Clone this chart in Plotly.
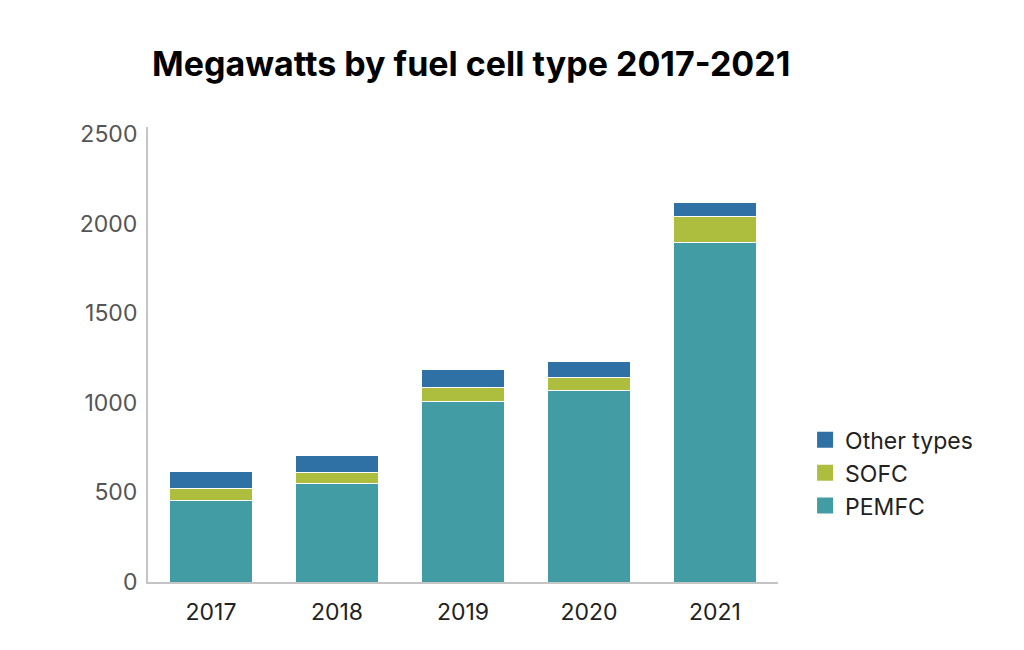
import plotly.graph_objects as go

years = ["2017", "2018", "2019", "2020", "2021"]
pemfc = [456, 551, 1009, 1067, 1894]
sofc = [67, 60, 78, 76, 145]
other = [94, 93, 97, 88, 80]
y_ticks = [0, 500, 1000, 1500, 2000, 2500]

FONT = "Inter"
series = [
    ("PEMFC", pemfc, "#429ca4"),
    ("SOFC", sofc, "#adbd3e"),
    ("Other types", other, "#2f71a4"),
]

fig = go.Figure()
for name, vals, color in series:
    fig.add_trace(go.Bar(
        x=years, y=vals, name=name, showlegend=False, legendgroup=name,
        marker=dict(color=color, line=dict(color="white", width=1)),
    ))
# legend entries with larger square swatches
for name, vals, color in series:
    fig.add_trace(go.Scatter(
        x=[None], y=[None], mode="markers", name=name, legendgroup=name,
        marker=dict(symbol="square", size=18, color=color),
    ))

fig.update_layout(
    width=1024, height=650,
    barmode="stack", bargap=0.34,
    paper_bgcolor="white", plot_bgcolor="white",
    margin=dict(l=140, r=254, t=119, b=76),
    font=dict(family=FONT, size=23, color="#222"),
    title=dict(
        text="<b>Megawatts by fuel cell type 2017-2021</b>",
        font=dict(family=FONT, size=34, color="#000"),
        x=144 / 1024, xanchor="left", xref="container",
        y=1 - 56 / 650, yanchor="middle", yref="container",
    ),
    legend=dict(
        x=1.043, xanchor="left", y=0.24, yanchor="middle",
        traceorder="reversed",
        font=dict(family=FONT, size=23, color="#222"),
        itemsizing="trace",
        tracegroupgap=5,
    ),
    showlegend=True,
)
fig.update_xaxes(
    showline=True, linecolor="#c4c4c4", linewidth=2,
    showgrid=False, ticks="", tickfont=dict(size=23, color="#222"),
    ticklabelstandoff=8,
)
fig.update_yaxes(
    range=[0, 2540], tickvals=y_ticks,
    showline=True, linecolor="#c4c4c4", linewidth=2,
    showgrid=False, zeroline=False, ticks="",
    tickfont=dict(size=23, color="#555"), ticklabelstandoff=4,
)

fig.write_html("out.html")
